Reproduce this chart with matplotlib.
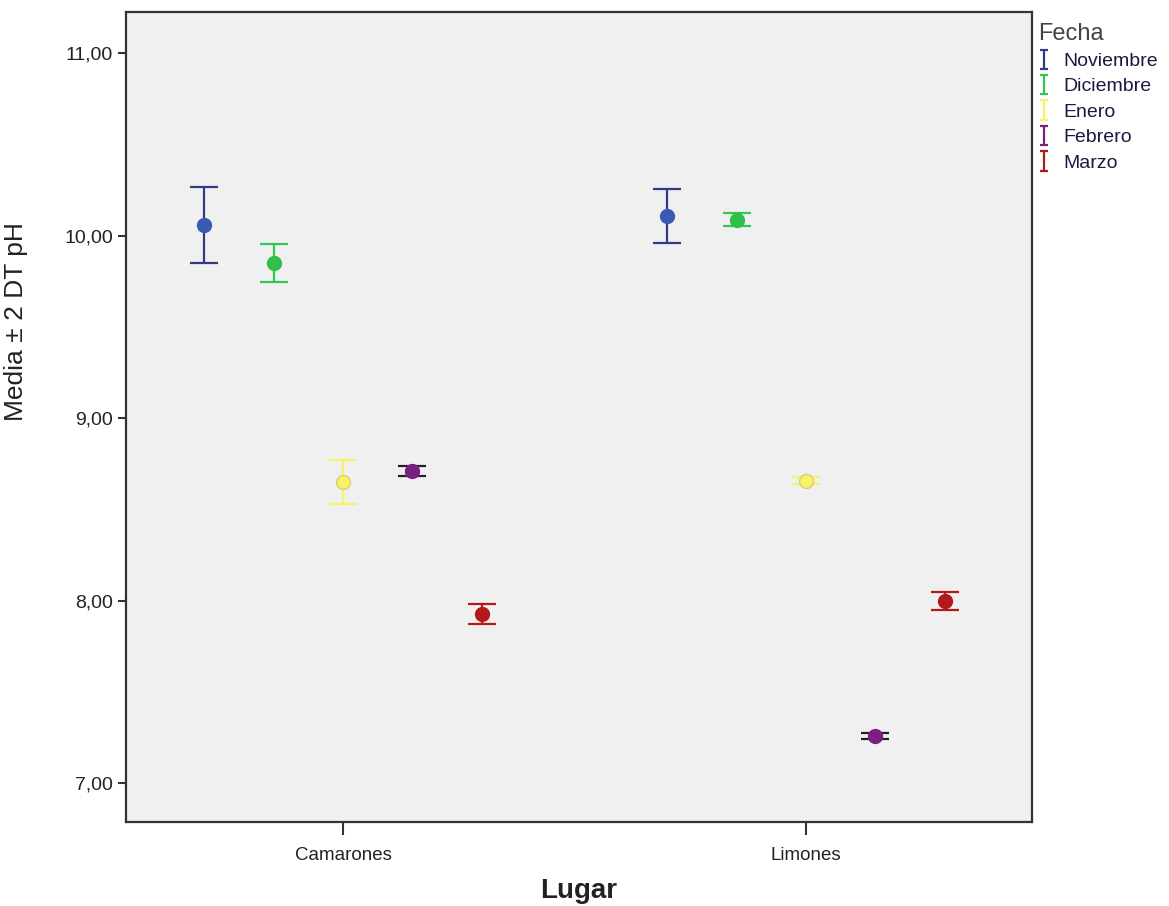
import numpy as np
import matplotlib
matplotlib.use("Agg")
import matplotlib.pyplot as plt
from matplotlib.ticker import FuncFormatter

plt.rcParams['font.family'] = ['Liberation Sans', 'DejaVu Sans']

# medias y 2*DT de pH por lugar y mes
lugares = ['Camarones', 'Limones']
meses = ['Noviembre', 'Diciembre', 'Enero', 'Febrero', 'Marzo']
media_camarones = [10.06, 9.85, 8.65, 8.71, 7.93]
dt2_camarones = [0.21, 0.105, 0.12, 0.027, 0.055]
media_limones = [10.11, 10.09, 8.66, 7.26, 8.00]
dt2_limones = [0.147, 0.033, 0.02, 0.015, 0.05]

col_punto = ['#3a59b4', '#2fbf4a', '#f8f266', '#7a1f80', '#b2191b']
col_barra = ['#34398a', '#33c653', '#f8f266', '#2a1a2e', '#b2191b']
col_borde = ['#3a59b4', '#2fbf4a', '#d8d070', '#7a1f80', '#b2191b']
desplaz = np.array([-0.3, -0.15, 0.0, 0.15, 0.3])

fig = plt.figure(figsize=(11.69, 9.06), dpi=100)
ax = fig.add_axes([126 / 1169, 1 - 822 / 906, 906 / 1169, 810 / 906])
ax.set_facecolor('#f0f0f0')

medias = np.array([media_camarones, media_limones])
errores = np.array([dt2_camarones, dt2_limones])
for j, mes in enumerate(meses):
    xs = np.arange(len(lugares)) + desplaz[j]
    ax.errorbar(xs, medias[:, j], yerr=errores[:, j], fmt='none',
                ecolor=col_barra[j], elinewidth=1.6, capsize=10, capthick=1.6, zorder=2)
    ax.plot(xs, medias[:, j], 'o', ms=10, color=col_punto[j],
            mec=col_borde[j], mew=1.0, zorder=3)

ax.set_xlim(-0.4687, 1.488)
ax.set_ylim(6.789, 11.227)
ax.set_xticks(range(len(lugares)))
ax.set_xticklabels(lugares, fontsize=13.5)
ax.set_yticks([7, 8, 9, 10, 11])
ax.yaxis.set_major_formatter(FuncFormatter(lambda v, p: f'{v:.2f}'.replace('.', ',')))
ax.tick_params(axis='y', labelsize=14, length=6, width=1.5, colors='#333333', labelcolor='#222222')
ax.tick_params(axis='x', length=9, width=1.5, pad=9, colors='#333333', labelcolor='#222222')
for s in ax.spines.values():
    s.set_linewidth(1.6)
    s.set_color('#333333')

ax.set_xlabel('Lugar', fontsize=20, fontweight='bold', labelpad=10, color='#222222')
ax.set_ylabel('Media ± 2 DT pH', fontsize=19, color='#222222')
ax.yaxis.set_label_coords(-0.108, 0.618)

# leyenda con la forma de barra de error
manijas = []
for j, mes in enumerate(meses):
    h = ax.errorbar([np.nan], [np.nan], yerr=[0.1], fmt='none',
                    ecolor=col_barra[j] if j != 3 else col_punto[j],
                    elinewidth=1.6, capsize=3, capthick=1.6, label=mes)
    manijas.append(h)
leg = fig.legend(handles=manijas, labels=meses, loc='upper left',
                 bbox_to_anchor=(1026 / 1169, 1 - 11 / 906), frameon=False,
                 title='Fecha', title_fontsize=17, fontsize=14,
                 handlelength=0.6, handletextpad=0.7, labelspacing=0.4,
                 alignment='left', borderaxespad=0.2)
leg.get_title().set_color('#444444')
for t in leg.get_texts():
    t.set_color('#1a1a40')

fig.savefig('out.png', dpi=100, facecolor='white')
